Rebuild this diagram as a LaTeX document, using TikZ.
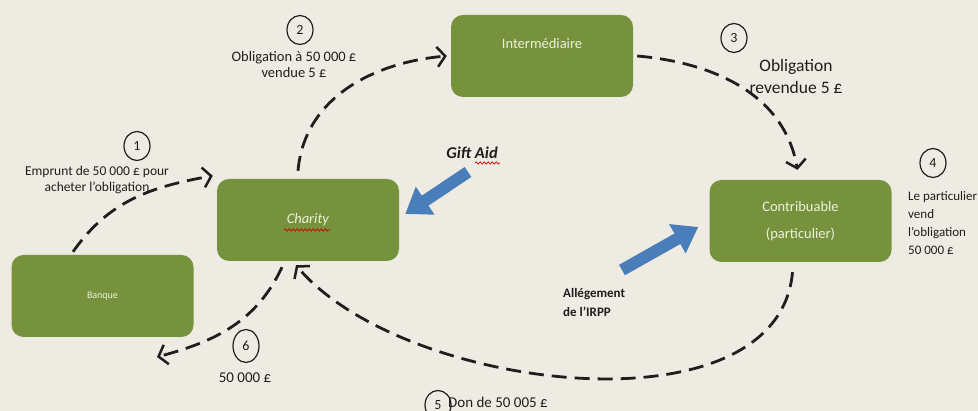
\documentclass[tikz,border=0pt]{standalone}
\usepackage{xcolor}
\usepackage{fontspec}
\setmainfont{Carlito}
\usepackage{tikz}
\usetikzlibrary{shapes,arrows.meta,decorations.pathmorphing}
\definecolor{paper}{RGB}{238,236,226}
\definecolor{boxgreen}{RGB}{118,146,60}
\definecolor{pale}{RGB}{236,241,222}
\definecolor{steel}{RGB}{74,126,187}
\definecolor{ink}{RGB}{30,30,30}
\tikzstyle{block} = [rectangle, fill=boxgreen, text=pale, text centered, align=center,
    rounded corners=12pt, minimum width=182pt, minimum height=82pt, font=\fontsize{14.5}{27}\selectfont]
\tikzstyle{num} = [draw=ink, ellipse, line width=1.2pt, minimum width=26pt, minimum height=29pt,
    inner sep=0pt, text=ink, font=\fontsize{14}{14}\selectfont]
\tikzstyle{note} = [align=center, inner sep=0pt, text=ink]
\tikzstyle{line} = [draw=ink, line width=2.8pt, dash pattern=on 15pt off 8pt,
    -{Straight Barb[length=8pt,width=20pt,line width=2.5pt]}]
\tikzstyle{bigarrow} = [draw=steel, line width=12pt, -{Triangle[length=24pt,width=32pt]}]
\tikzstyle{squiggle} = [draw=red!80!black, line width=0.7pt, decorate,
    decoration={snake, amplitude=1.2pt, segment length=4pt}]

\begin{document}
\begin{tikzpicture}[x=1pt, y=1pt]
    \fill [paper] (0,0) rectangle (978,411);
    \useasboundingbox (0,0) rectangle (978,411);
    % Place nodes
    \node [block] (charity) at (308,191) {\textit{Charity}};
    \node [block, font=\fontsize{10}{12}\selectfont] (banque) at (102.5,115) {Banque};
    \node [block] (inter) at (542,355) {\raisebox{11pt}[10pt][3pt]{Intermédiaire}};
    \node [block] (contrib) at (800.5,190) {Contribuable\\(particulier)};

    \node [num] (n1) at (137,265) {1};
    \node [note, font=\fontsize{13.5}{16.5}\selectfont] (t1) at (97,231) {Emprunt de 50 000 £ pour\\acheter l'obligation};
    \node [num] (n2) at (300,381) {2};
    \node [note, font=\fontsize{14.5}{15.5}\selectfont] (t2) at (294,346.5) {Obligation à 50 000 £\\vendue 5 £};
    \node [num] (n3) at (734,373) {3};
    \node [note, font=\fontsize{17.5}{22}\selectfont] (t3) at (796,335) {Obligation\\revendue 5 £};
    \node [num] (n4) at (933,248) {4};
    \node [note, align=left, anchor=west, font=\fontsize{13}{18}\selectfont] (t4) at (908,188) {Le particulier\\vend\\l'obligation\\50 000 £};
    \node [num] (n5) at (438,6) {5};
    \node [note, anchor=west, font=\fontsize{15}{15}\selectfont] (t5) at (448,9) {Don de 50 005 £};
    \node [num, minimum height=33pt] (n6) at (246,65) {6};
    \node [note, font=\fontsize{15}{15}\selectfont] (t6) at (245,33) {50 000 £};
    \node [note, font=\fontsize{16.5}{16.5}\selectfont\bfseries\itshape] (gift) at (472,258) {Gift Aid};
    \node [note, align=left, anchor=west, font=\fontsize{13}{19}\selectfont\bfseries] (irpp) at (563,108.5) {Allégement\\de l'IRPP};

    \coordinate (giftTail) at (468,239);
    \coordinate (irppTail) at (622,141);
    \coordinate (payback) at (157,54);

    % Draw edges
    \path [line] ([xshift=-29.5pt,yshift=3pt]banque.north) to[out=55,in=190] ([xshift=-4pt,yshift=3pt]charity.north west);
    \path [line] ([xshift=-10pt,yshift=8pt]charity.north) to[out=85,in=185] ([xshift=-4pt]inter.west);
    \path [line] ([xshift=4pt]inter.east) to[out=-5,in=100] ([xshift=-3pt,yshift=10pt]contrib.north);
    \path [line] ([xshift=-8pt,yshift=-10pt]contrib.south) to[out=-95,in=-50,looseness=0.85] ([xshift=-12pt,yshift=-4pt]charity.south);
    \path [line] ([xshift=-26pt,yshift=-6pt]charity.south) to[out=-115,in=15] (payback);

    \path [bigarrow] (giftTail) -- ([xshift=6pt,yshift=6pt]charity.east);
    \path [bigarrow] (irppTail) -- ([xshift=-11pt,yshift=-6pt]contrib.west);

    \path [squiggle] ([xshift=-24pt,yshift=-10pt]charity.center) -- ([xshift=22pt,yshift=-10pt]charity.center);
    \path [squiggle] ([xshift=3pt,yshift=-10pt]gift.center) -- ([xshift=28pt,yshift=-10pt]gift.center);
\end{tikzpicture}
\end{document}
